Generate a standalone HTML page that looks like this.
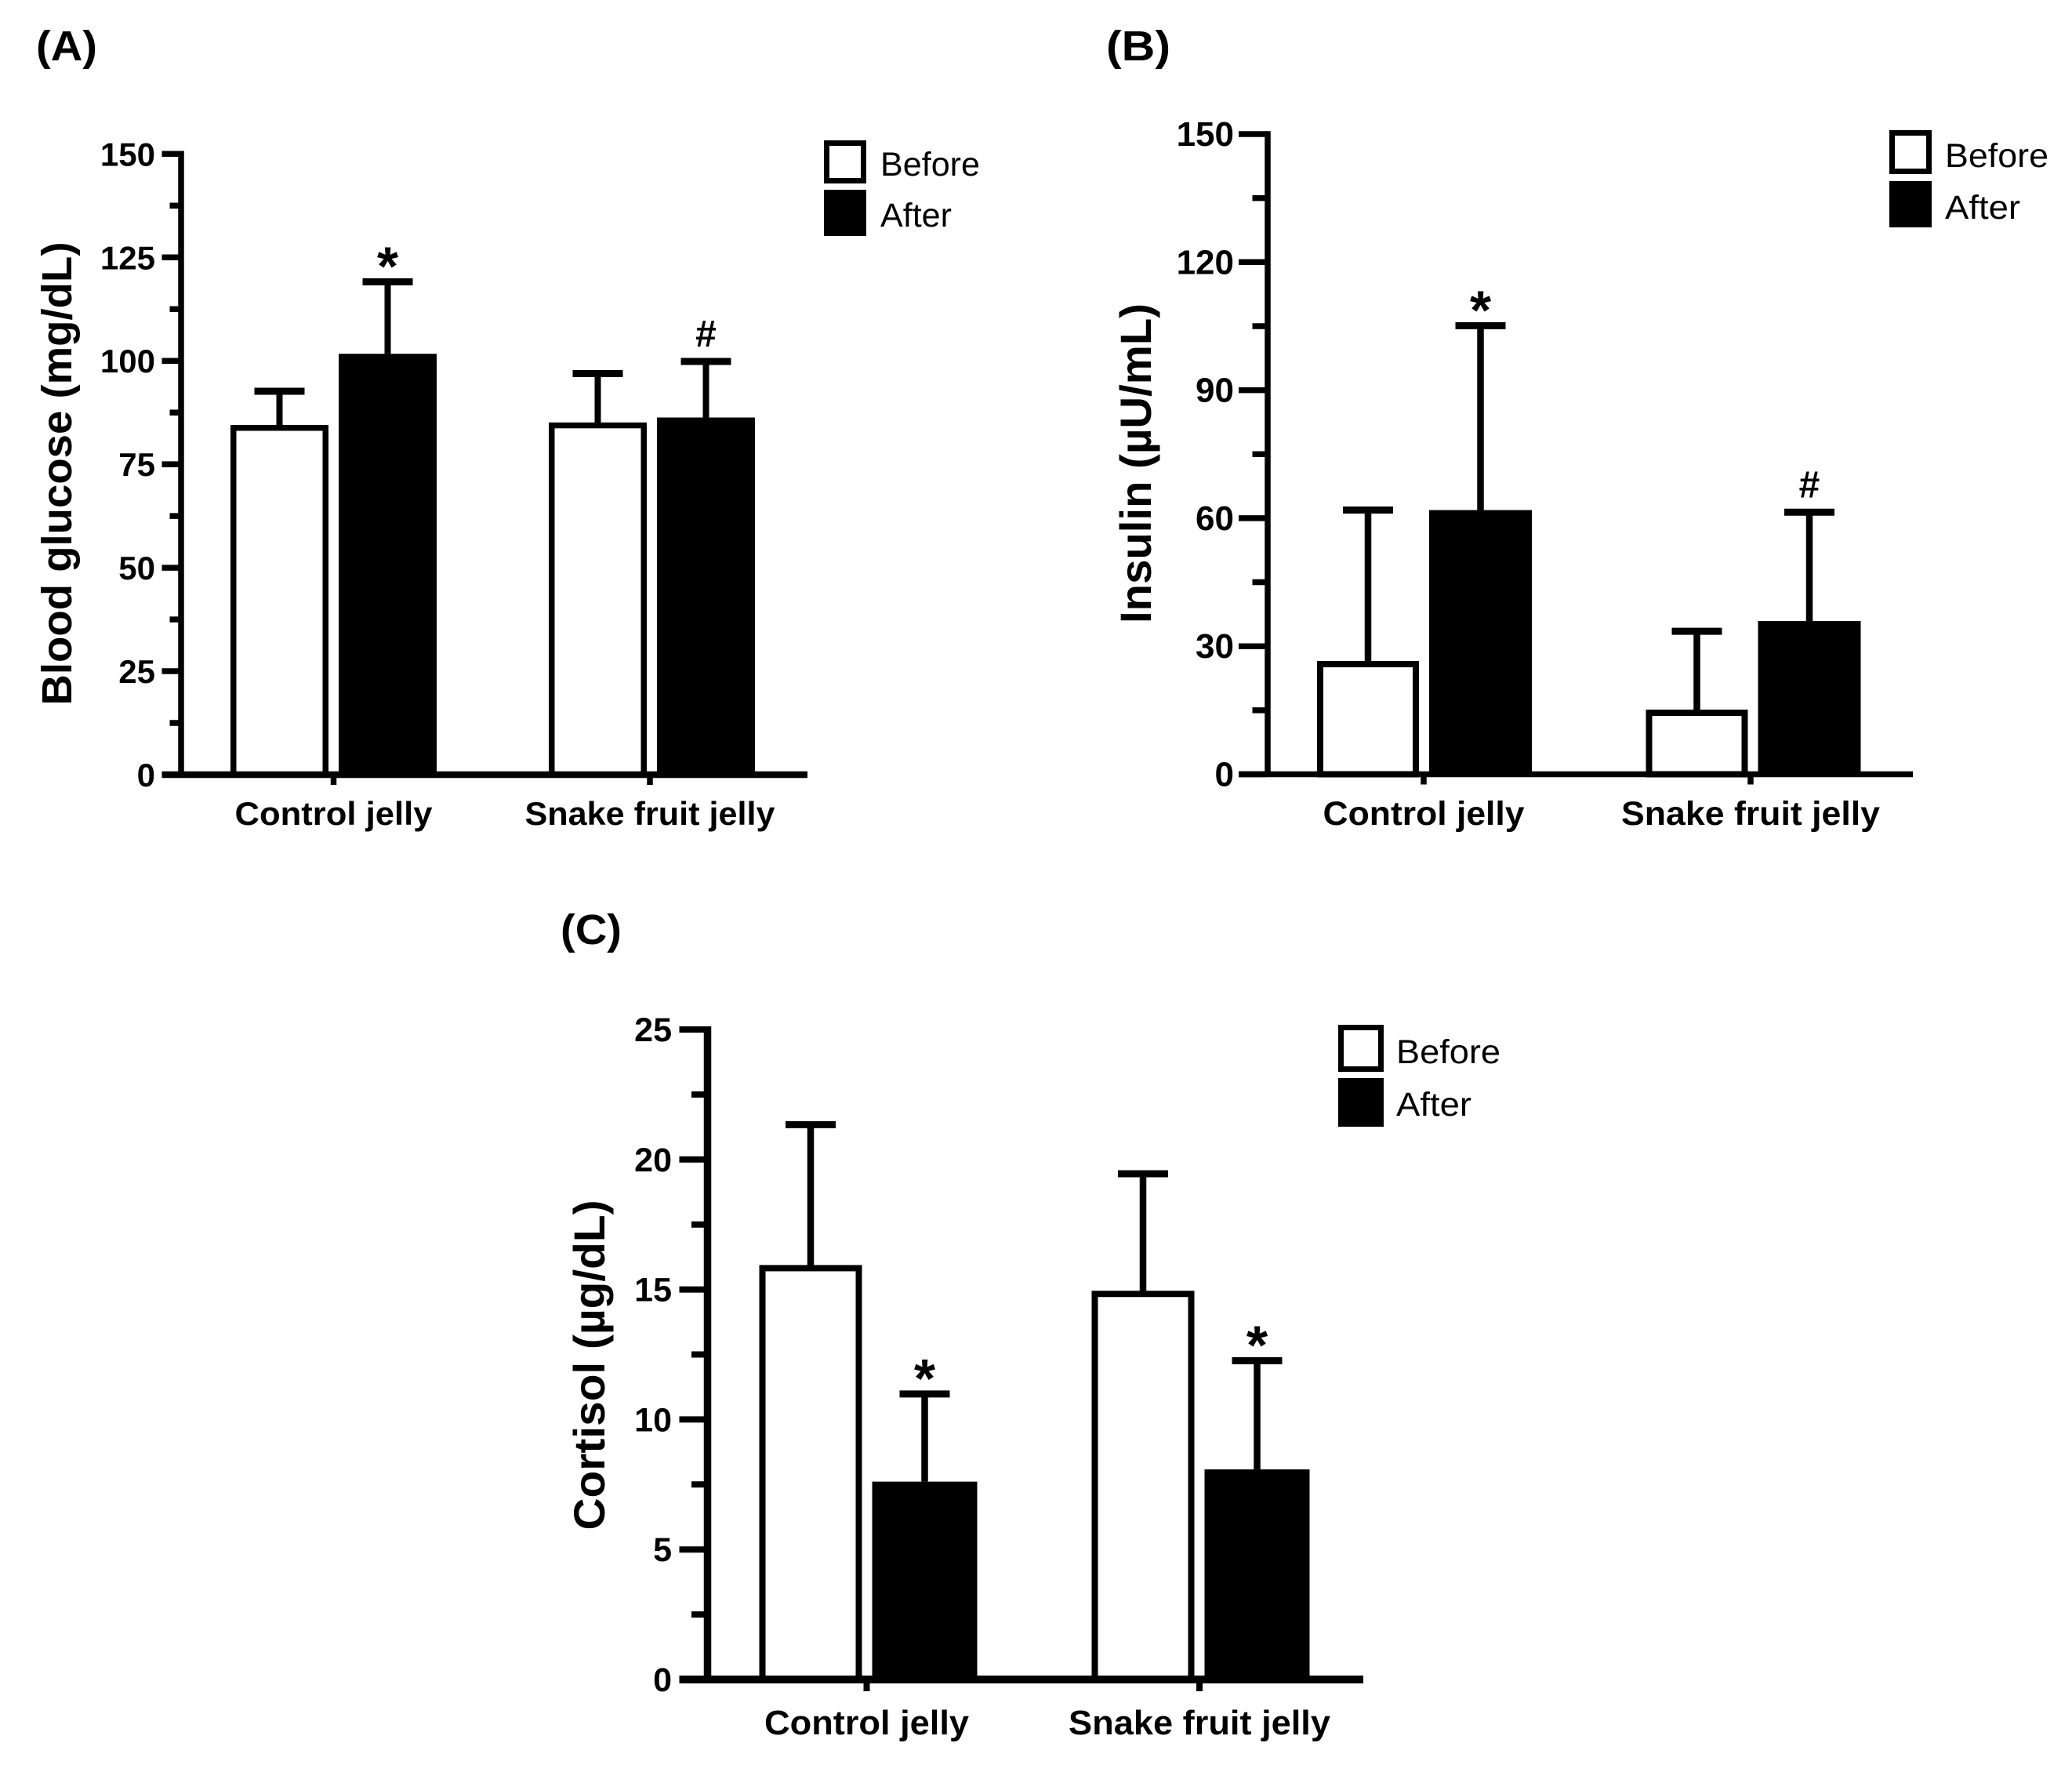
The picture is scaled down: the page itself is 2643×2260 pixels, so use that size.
<!DOCTYPE html>
<html lang="en">
<head>
<meta charset="utf-8">
<title>Blood glucose, insulin and cortisol before and after jelly intake</title>
<style>
  html, body { margin: 0; padding: 0; background: #fff; }
  svg { display: block; }
  text { font-family: "Liberation Sans", Arial, sans-serif; fill: #000; }
</style>
</head>
<body>
<svg id="figure" xmlns="http://www.w3.org/2000/svg" width="2643" height="2260" viewBox="0 0 2643 2260">
  <rect x="0" y="0" width="2643" height="2260" fill="#fff"/>
</svg>
<script>
const categories = ['Control jelly', 'Snake fruit jelly'];

const glucoseTicks = [0, 25, 50, 75, 100, 125, 150];
const glucoseBefore = [83.8, 84.4];
const glucoseAfter = [101.7, 86.3];
const glucoseBeforeError = [8.85, 12.5];
const glucoseAfterError = [17.4, 13.55];
const glucoseMarks = ['*', '#'];

const insulinTicks = [0, 30, 60, 90, 120, 150];
const insulinBefore = [25.8, 14.4];
const insulinAfter = [61.9, 35.9];
const insulinBeforeError = [36.1, 19.1];
const insulinAfterError = [43.2, 25.5];
const insulinMarks = ['*', '#'];

const cortisolTicks = [0, 5, 10, 15, 20, 25];
const cortisolBefore = [15.82, 14.83];
const cortisolAfter = [7.61, 8.08];
const cortisolBeforeError = [5.52, 4.62];
const cortisolAfterError = [3.37, 4.18];
const cortisolMarks = ['*', '*'];

const svg = document.getElementById('figure');
const NS = 'http://www.w3.org/2000/svg';

function mk(tag, attrs, text) {
  const node = document.createElementNS(NS, tag);
  for (const k in attrs) node.setAttribute(k, attrs[k]);
  if (text !== undefined) node.textContent = text;
  svg.appendChild(node);
  return node;
}

function drawPanel(p) {
  const yScale = function (v) {
    return p.y0 - v * (p.y0 - p.yTop) / p.ticks[p.ticks.length - 1];
  };
  const xBand = function (i) {
    return p.groupX + i * p.groupStep;
  };
  const xTick = function (i) {
    return p.tickX + i * p.tickStep;
  };

  const letter = mk('text', {
    x: p.letterX, y: p.letterY, 'font-size': 54, 'font-weight': 'bold',
    textLength: p.letterLen, lengthAdjust: 'spacingAndGlyphs'
  }, p.letter);
  
  

  const title = mk('text', {
    transform: 'translate(' + p.titleX + ',' + p.titleCY + ') rotate(-90)',
    'text-anchor': 'middle', 'font-size': p.titleSize, 'font-weight': 'bold',
    textLength: p.titleLen, lengthAdjust: 'spacingAndGlyphs'
  }, p.title);
  
  

  categories.forEach(function (cat, i) {
    const cx = xBand(i);
    const sw = p.barStroke;
    const beforeCx = cx + p.beforeOff;
    const afterCx = cx + p.afterOff;

    const barB = mk('rect', {
      x: beforeCx - p.beforeW / 2 + sw / 2, y: yScale(p.before[i]),
      width: p.beforeW - sw, height: p.y0 - yScale(p.before[i]),
      fill: '#fff', stroke: '#000', 'stroke-width': sw
    });
    
    

    const barA = mk('rect', {
      x: afterCx - p.afterW / 2, y: yScale(p.after[i]),
      width: p.afterW, height: p.y0 - yScale(p.after[i]), fill: '#000'
    });
    
    

    [[beforeCx, p.before[i], p.beforeErr[i], 'before'], [afterCx, p.after[i], p.afterErr[i], 'after']].forEach(function (e) {
      const ex = e[0];
      const ey = yScale(e[1] + e[2]);
      const stem = mk('line', { x1: ex, x2: ex, y1: ey, y2: yScale(e[1]), stroke: '#000', 'stroke-width': p.stemW });
      
      
      const cap = mk('line', { x1: ex - 32, x2: ex + 32, y1: ey, y2: ey, stroke: '#000', 'stroke-width': 9 });
      
      
    });

    const topY = yScale(p.after[i] + p.afterErr[i]);
    const isStar = p.marks[i] === '*';
    const mark = mk('text', {
      x: afterCx, y: isStar ? topY + 4 : topY - 19,
      'text-anchor': 'middle', 'font-weight': 'bold', 'font-size': isStar ? 70 : 48
    }, p.marks[i]);
    
    

    const tick = mk('line', { x1: xTick(i), x2: xTick(i), y1: p.y0, y2: p.y0 + p.xTickLen, stroke: '#000', 'stroke-width': p.tickW });
    
    

    const label = mk('text', {
      x: xTick(i), y: p.catY, 'text-anchor': 'middle', 'font-size': p.catSize, 'font-weight': 'bold',
      textLength: p.catLens[i], lengthAdjust: 'spacingAndGlyphs'
    }, cat);
    
    
  });

  const yAxis = mk('line', { x1: p.axisX, x2: p.axisX, y1: p.yTop - p.tickW / 2, y2: p.y0, stroke: '#000', 'stroke-width': p.axisW });
  
  

  const xAxis = mk('line', { x1: p.axisX - p.tickLen, x2: p.axisEnd, y1: p.y0, y2: p.y0, stroke: '#000', 'stroke-width': p.xAxisW });
  
  

  p.ticks.forEach(function (t, i) {
    const ty = yScale(t);
    const major = mk('line', { x1: p.axisX - p.tickLen, x2: p.axisX, y1: ty, y2: ty, stroke: '#000', 'stroke-width': p.tickW });
    
    

    const tl = mk('text', {
      x: p.tickLabelX, y: ty + 15, 'text-anchor': 'end', 'font-size': p.tickSize, 'font-weight': 'bold'
    }, String(t));
    
    

    if (i < p.ticks.length - 1) {
      const my = yScale((t + p.ticks[i + 1]) / 2);
      const minor = mk('line', { x1: p.axisX - p.minorLen, x2: p.axisX, y1: my, y2: my, stroke: '#000', 'stroke-width': p.tickW });
      
      
    }
  });

  const lb = p.legend;
  const swatchB = mk('rect', {
    x: lb.x + 3.5, y: lb.y1 + 3.5, width: lb.w - 7, height: lb.h1 - 7,
    fill: '#fff', stroke: '#000', 'stroke-width': 7
  });
  
  

  const swatchA = mk('rect', { x: lb.x, y: lb.y2, width: lb.w, height: lb.h2, fill: '#000' });
  
  

  const textB = mk('text', {
    x: lb.tx, y: lb.b1, 'font-size': 43, textLength: lb.len1, lengthAdjust: 'spacingAndGlyphs'
  }, 'Before');
  
  

  const textA = mk('text', {
    x: lb.tx, y: lb.b2, 'font-size': 43, textLength: lb.len2, lengthAdjust: 'spacingAndGlyphs'
  }, 'After');
  
  
}

drawPanel({
  key: 'glucose', letter: '(A)', letterX: 46, letterY: 77, letterLen: 78,
  title: 'Blood glucose (mg/dL)', titleX: 91, titleCY: 604, titleLen: 591, titleSize: 54,
  ticks: glucoseTicks, before: glucoseBefore, after: glucoseAfter,
  beforeErr: glucoseBeforeError, afterErr: glucoseAfterError, marks: glucoseMarks,
  y0: 988, yTop: 196.3, axisX: 231, axisEnd: 1030, axisW: 7.5, xAxisW: 8.5, tickW: 7.5,
  tickLen: 24.5, minorLen: 14.5, tickLabelX: 198, tickSize: 42, xTickLen: 13,
  groupX: 425.5, groupStep: 406, beforeOff: -69, afterOff: 69, beforeW: 125, afterW: 125, barStroke: 7.5, stemW: 8,
  tickX: 425.5, tickStep: 403.5, catY: 1052, catSize: 42, catLens: [252, 319],
  legend: { x: 1051, y1: 179, w: 54, h1: 55, y2: 242, h2: 59, tx: 1123, b1: 224, b2: 289, len1: 127, len2: 91 }
});

drawPanel({
  key: 'insulin', letter: '(B)', letterX: 1411, letterY: 77, letterLen: 82,
  title: 'Insulin (\u00B5U/mL)', titleX: 1468, titleCY: 591, titleLen: 408, titleSize: 56,
  ticks: insulinTicks, before: insulinBefore, after: insulinAfter,
  beforeErr: insulinBeforeError, afterErr: insulinAfterError, marks: insulinMarks,
  y0: 987.5, yTop: 171, axisX: 1617, axisEnd: 2440, axisW: 7.5, xAxisW: 7.5, tickW: 7.5,
  tickLen: 37, minorLen: 19.5, tickLabelX: 1574, tickSize: 44, xTickLen: 13,
  groupX: 1816, groupStep: 419.5, beforeOff: -71, afterOff: 72.5, beforeW: 130, afterW: 131, barStroke: 8, stemW: 8.5,
  tickX: 1816, tickStep: 417, catY: 1052, catSize: 43, catLens: [257, 330],
  legend: { x: 2410, y1: 166, w: 54, h1: 56, y2: 231, h2: 59, tx: 2481, b1: 213, b2: 279, len1: 132, len2: 96 }
});

drawPanel({
  key: 'cortisol', letter: '(C)', letterX: 715, letterY: 1204, letterLen: 78,
  title: 'Cortisol (\u00B5g/dL)', titleX: 771, titleCY: 1741, titleLen: 421, titleSize: 56,
  ticks: cortisolTicks, before: cortisolBefore, after: cortisolAfter,
  beforeErr: cortisolBeforeError, afterErr: cortisolAfterError, marks: cortisolMarks,
  y0: 2142, yTop: 1313, axisX: 902.5, axisEnd: 1739, axisW: 9.5, xAxisW: 10, tickW: 8,
  tickLen: 36, minorLen: 20.5, tickLabelX: 857, tickSize: 43, xTickLen: 15,
  groupX: 1105.5, groupStep: 424, beforeOff: -71.5, afterOff: 74, beforeW: 131, afterW: 134, barStroke: 8, stemW: 8.5,
  tickX: 1105.5, tickStep: 424.5, catY: 2212, catSize: 44, catLens: [261, 334],
  legend: { x: 1707, y1: 1307, w: 58, h1: 60, y2: 1375, h2: 62, tx: 1781, b1: 1356, b2: 1423, len1: 133, len2: 96 }
});
</script>
</body>
</html>
